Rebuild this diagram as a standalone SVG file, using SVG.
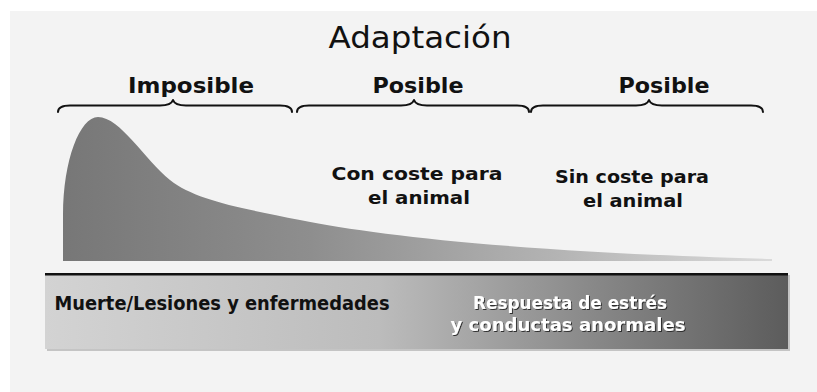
<svg xmlns="http://www.w3.org/2000/svg" width="817" height="392" viewBox="0 0 817 392">
  <style>
    .t { font-family: "DejaVu Sans", "Liberation Sans", sans-serif; fill: #111; text-anchor: middle; }
    .b { font-weight: bold; }
    .brace { fill: none; stroke: #111; stroke-width: 2; stroke-linecap: round; stroke-linejoin: round; }
    .w { fill: #fff; }
  </style>
  <defs>
    <linearGradient id="curveGrad" x1="63" y1="0" x2="772" y2="0" gradientUnits="userSpaceOnUse">
      <stop offset="0" stop-color="#777777"/>
      <stop offset="0.35" stop-color="#8e8e8e"/>
      <stop offset="0.7" stop-color="#b4b4b4"/>
      <stop offset="1" stop-color="#dadada"/>
    </linearGradient>
    <linearGradient id="barGrad" x1="45" y1="0" x2="788" y2="0" gradientUnits="userSpaceOnUse">
      <stop offset="0" stop-color="#d3d3d3"/>
      <stop offset="0.45" stop-color="#bcbcbc"/>
      <stop offset="0.75" stop-color="#868686"/>
      <stop offset="1" stop-color="#5c5c5c"/>
    </linearGradient>
    <filter id="shadow" x="-10%" y="-30%" width="120%" height="160%">
      <feDropShadow dx="1" dy="1" stdDeviation="0.6" flood-color="#222" flood-opacity="0.9"/>
    </filter>
  </defs>

  <rect x="10" y="11" width="807" height="381" fill="#f3f3f3"/>

  <g id="title">
    <text class="t" x="420" y="48" font-size="30" font-weight="500" textLength="183" lengthAdjust="spacingAndGlyphs">Adaptación</text>
  </g>

  <g id="braces">
    <g id="brace-imposible">
      <path class="brace" d="M58,112 C58,107 62,105.5 70,105.5 L160,105.5 C168,105.5 172,103 173,100 C174,103 178,105.5 186,105.5 L280,105.5 C288,105.5 292,107 292,112"/>
      <text class="t b" x="191" y="93" font-size="21" textLength="126" lengthAdjust="spacingAndGlyphs">Imposible</text>
    </g>
    <g id="brace-posible-1">
      <path class="brace" d="M297,112 C297,107 301,105.5 309,105.5 L401,105.5 C409,105.5 413,103 414,100 C415,103 419,105.5 427,105.5 L517,105.5 C525,105.5 529,107 529,112"/>
      <text class="t b" x="418" y="93" font-size="21" textLength="91" lengthAdjust="spacingAndGlyphs">Posible</text>
    </g>
    <g id="brace-posible-2">
      <path class="brace" d="M531,112 C531,107 535,105.5 543,105.5 L636,105.5 C644,105.5 648,103 649,100 C650,103 654,105.5 662,105.5 L751,105.5 C759,105.5 763,107 763,112"/>
      <text class="t b" x="664" y="93" font-size="21" textLength="91" lengthAdjust="spacingAndGlyphs">Posible</text>
    </g>
  </g>

  <g id="curve">
    <path d="M63,261 L63,215 C63,160 80,117 98,117 C120,117 145,160 170,180 C195,200 240,208 300,220 C380,236 520,252 772,259 L772,261 Z" fill="url(#curveGrad)"/>
  </g>

  <g id="label-con-coste">
    <text class="t b" x="417" y="180" font-size="18" textLength="171" lengthAdjust="spacingAndGlyphs">Con coste para</text>
    <text class="t b" x="419" y="204" font-size="18" textLength="102" lengthAdjust="spacingAndGlyphs">el animal</text>
  </g>
  <g id="label-sin-coste">
    <text class="t b" x="632" y="183" font-size="18" textLength="154" lengthAdjust="spacingAndGlyphs">Sin coste para</text>
    <text class="t b" x="633" y="207" font-size="18" textLength="100" lengthAdjust="spacingAndGlyphs">el animal</text>
  </g>

  <g id="bar">
    <rect x="47" y="275" width="743" height="76" fill="#c4c4c4"/>
    <rect x="45" y="273" width="743" height="76" fill="url(#barGrad)"/>
    <rect x="45" y="273" width="743" height="2.5" fill="#111"/>
    <text class="t b" x="222" y="310" font-size="19" textLength="335" lengthAdjust="spacingAndGlyphs">Muerte/Lesiones y enfermedades</text>
    <g filter="url(#shadow)">
      <text class="t w b" x="570" y="309" font-size="17" textLength="194" lengthAdjust="spacingAndGlyphs">Respuesta de estrés</text>
      <text class="t w b" x="568" y="331" font-size="17" textLength="235" lengthAdjust="spacingAndGlyphs">y conductas anormales</text>
    </g>
  </g>
</svg>
